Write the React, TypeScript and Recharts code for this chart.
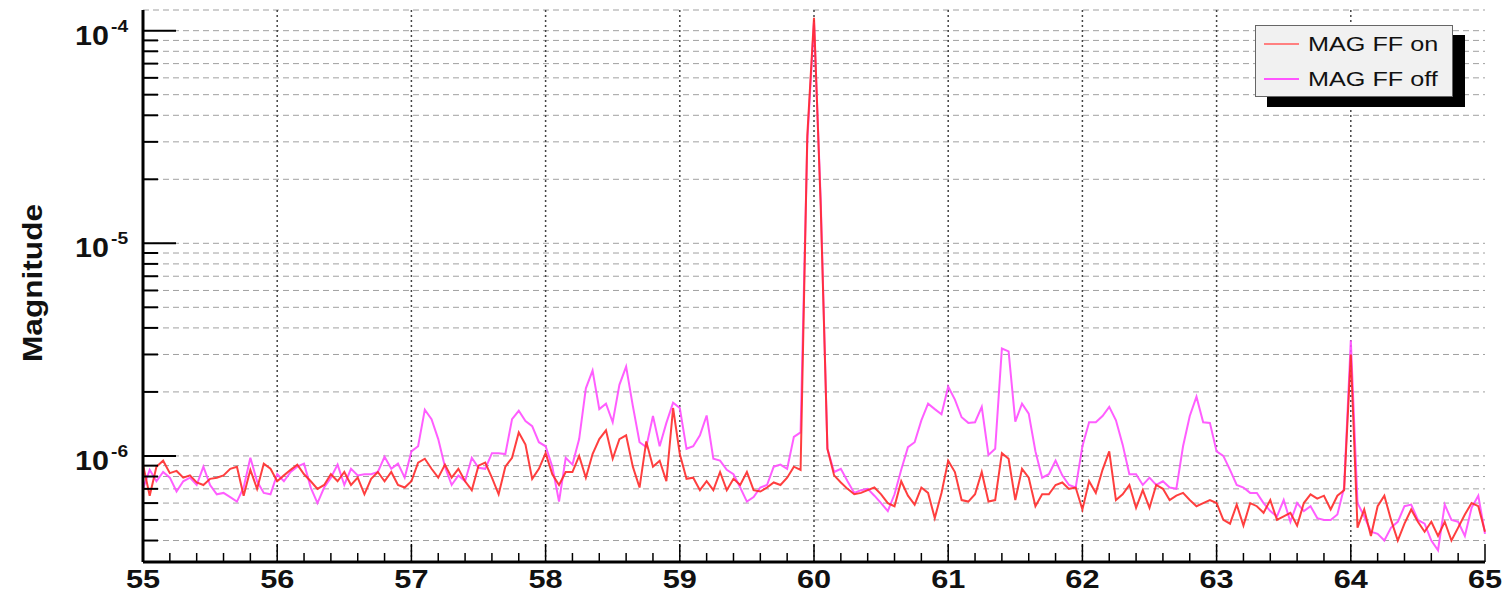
import { LineChart, Line, XAxis, YAxis, CartesianGrid, ReferenceLine, Legend } from "recharts";

const FONT = '"Liberation Sans", Arial, Helvetica, sans-serif';

// spectrum sampled every 0.05 Hz starting at 55 Hz
const FREQ_START = 55;
const FREQ_STEP = 0.05;

// magnitudes in units of 1e-7
const MAG_FF_ON = [
  9.1, 6.5, 8.9, 9.5, 8.3, 8.5, 7.9, 8.1, 7.5, 7.3, 7.8, 7.9, 8.1, 8.7, 8.9, 6.5, 8.6, 7.0, 9.2, 8.7, 7.6,
  8.1, 8.6, 9.1, 8.2, 7.6, 7.0, 7.3, 8.2, 7.6, 8.4, 7.3, 7.9, 6.6, 7.8, 8.4, 7.6, 8.4, 7.3, 7.1, 7.6,
  9.3, 9.7, 8.7, 7.9, 9.1, 7.9, 8.7, 7.6, 6.9, 9.0, 9.3, 7.9, 6.6, 8.9, 9.8, 12.9, 11.3, 7.8, 8.7, 10.3,
  8.2, 7.3, 8.4, 8.4, 10.0, 7.9, 10.2, 12.0, 13.2, 9.7, 12.0, 12.5, 8.9, 7.1, 11.7, 8.9, 9.5, 7.6, 16.8, 10.2,
  7.8, 7.9, 6.9, 7.6, 6.9, 8.4, 6.9, 7.8, 7.3, 8.4, 6.9, 6.8, 7.1, 7.5, 7.3, 7.9, 8.9, 8.6, 320, 1150,
  150, 10.8, 8.1, 7.5, 7.0, 6.6, 6.7, 6.9, 7.1, 6.6, 6.0, 5.8, 7.6, 6.5, 5.9, 7.1, 6.7, 5.1, 6.7, 9.5,
  8.4, 6.2, 6.1, 6.6, 8.4, 6.1, 6.2, 10.3, 9.7, 6.2, 8.7, 7.9, 5.8, 6.6, 6.6, 7.3, 7.5, 7.0, 7.1, 5.6,
  7.6, 6.7, 8.6, 10.5, 6.2, 6.6, 7.3, 5.7, 6.9, 5.7, 7.3, 7.0, 6.2, 6.5, 6.7, 6.2, 5.8, 6.0, 6.2, 6.0,
  5.0, 4.8, 5.9, 4.7, 6.0, 5.8, 5.4, 6.2, 5.0, 5.2, 5.4, 4.7, 6.0, 6.6, 6.3, 6.5, 5.6, 6.5, 6.9, 30,
  4.6, 5.6, 4.2, 5.8, 6.5, 5.0, 4.0, 4.8, 5.6, 4.9, 4.4, 4.9, 4.2, 4.9, 4.0, 4.6, 5.3, 6.0, 5.8, 4.4,
];

const MAG_FF_OFF = [
  7.0, 8.6, 7.6, 8.4, 7.9, 6.8, 7.6, 7.9, 7.3, 8.9, 7.3, 6.6, 6.7, 6.4, 6.1, 7.1, 9.8, 7.6, 6.7, 6.6, 8.2,
  7.6, 8.4, 8.9, 9.2, 7.1, 6.0, 7.1, 7.9, 9.1, 7.3, 8.7, 8.1, 8.2, 8.2, 8.4, 9.9, 8.7, 9.2, 7.9, 10.5,
  11.1, 16.5, 14.9, 12.0, 8.9, 7.3, 8.1, 7.6, 9.8, 8.8, 8.7, 10.3, 10.3, 10.2, 14.9, 16.3, 14.6, 13.8, 11.6, 11.1,
  8.9, 6.1, 9.8, 9.1, 12.0, 20.8, 25.2, 16.6, 17.6, 14.4, 21.6, 26.3, 17.2, 11.6, 11.0, 15.4, 11.1, 14.3, 17.8, 16.8,
  10.8, 11.1, 12.5, 15.5, 9.7, 9.5, 8.6, 8.2, 7.1, 6.1, 6.4, 7.1, 7.3, 8.9, 9.1, 8.7, 12.3, 12.9, 300, 1100,
  160, 10.8, 8.4, 8.7, 7.6, 6.7, 6.9, 7.0, 6.5, 6.0, 5.5, 6.6, 8.6, 11.0, 11.6, 14.7, 17.6, 16.6, 15.7, 21.2,
  18.4, 15.2, 14.3, 14.4, 17.0, 10.1, 10.8, 32, 31, 14.5, 17.6, 15.8, 10.5, 7.9, 8.2, 9.5, 8.1, 7.3, 7.1, 11.1,
  14.4, 14.4, 15.4, 17.0, 14.7, 11.3, 8.2, 8.2, 7.3, 7.9, 7.3, 7.6, 7.1, 7.0, 11.1, 15.4, 19.0, 14.4, 14.3, 10.5,
  10.0, 8.6, 7.3, 7.1, 6.7, 6.7, 6.0, 5.5, 5.2, 6.2, 4.9, 6.0, 5.5, 5.8, 5.1, 5.0, 5.0, 5.3, 7.1, 35,
  6.0, 5.2, 4.4, 4.3, 4.0, 4.6, 4.9, 5.8, 5.9, 5.0, 4.8, 4.0, 3.6, 5.9, 5.0, 4.9, 4.2, 5.7, 6.5, 4.3,
];

const X_MAJOR = [55, 56, 57, 58, 59, 60, 61, 62, 63, 64, 65];
const Y_DECADES = [10, 100, 1000];
const Y_DECADE_EXP = ["-6", "-5", "-4"];
const Y_GRID = [4, 5, 6, 7, 8, 9, 10, 20, 30, 40, 50, 60, 70, 80, 90, 100, 200, 300, 400, 500, 600, 700, 800, 900, 1000];

const SERIES = [
  { key: "off", name: "MAG FF off", color: "#ff4dff", legendColor: "#ff55ff" },
  { key: "on", name: "MAG FF on", color: "#ff2a2a", legendColor: "#ff8080" },
];

const data = MAG_FF_ON.map((v, i) => ({
  freq: +(FREQ_START + i * FREQ_STEP).toFixed(2),
  on: v,
  off: MAG_FF_OFF[i],
}));

// minor ticks every 0.2 Hz
const X_TICKS = Array.from({ length: 51 }, (_, i) => +(55 + i * 0.2).toFixed(1));

const isMajorX = (v: number) => Number.isInteger(v);
const isDecade = (v: number) => Y_DECADES.includes(v);

function BottomTick({ x, y, payload }: any) {
  const v = payload.value;
  const major = isMajorX(v);
  return (
    <g>
      <line x1={x} x2={x} y1={y} y2={y - (major ? 18 : 9)} stroke="#000" strokeWidth={1.5} />
      {major && (
        <text
          transform={`translate(${x},${y + 26}) scale(1.18,1)`}
          textAnchor="middle"
          fontSize={26}
          fontWeight="bold"
          fontFamily={FONT}
          fill="#111"
        >
          {v}
        </text>
      )}
    </g>
  );
}

function TopTick({ x, y, payload }: any) {
  const major = isMajorX(payload.value);
  return <line x1={x} x2={x} y1={y} y2={y + (major ? 15 : 8)} stroke="#000" strokeWidth={1.5} />;
}

function LeftTick({ x, y, payload }: any) {
  const v = payload.value;
  const major = isDecade(v);
  const exp = Y_DECADE_EXP[Y_DECADES.indexOf(v)];
  return (
    <g>
      <line x1={x} x2={x + (major ? 33 : 15)} y1={y} y2={y} stroke="#000" strokeWidth={2} />
      {major && (
        <g fontFamily={FONT} fontWeight="bold" fill="#111">
          <text transform={`translate(109,${y + 14}) scale(1.13,1)`} textAnchor="end" fontSize={27}>
            10
          </text>
          <text transform={`translate(111,${y + 1}) scale(1.13,1)`} fontSize={17}>
            {exp}
          </text>
        </g>
      )}
    </g>
  );
}

function RightTick({ x, y, payload }: any) {
  const major = isDecade(payload.value);
  return <line x1={x} x2={x - (major ? 33 : 17)} y1={y} y2={y} stroke="#000" strokeWidth={2} />;
}

function YTitle({ viewBox }: any) {
  const cy = viewBox.y + viewBox.height / 2 - 3;
  return (
    <text
      transform={`translate(42,${cy}) rotate(-90) scale(1.13,1)`}
      textAnchor="middle"
      fontSize={28}
      fontWeight="bold"
      fontFamily={FONT}
      fill="#111"
    >
      Magnitude
    </text>
  );
}

function LegendBox() {
  const rows = [SERIES[1], SERIES[0]];
  return (
    <div
      style={{
        width: 198,
        height: 72,
        boxSizing: "border-box",
        background: "#f1f1f1",
        border: "1px solid #666",
        boxShadow: "12px 10px 0 0 #000",
        fontFamily: FONT,
        position: "relative",
      }}
    >
      {rows.map((s, i) => (
        <div key={s.key} style={{ position: "absolute", left: 0, top: 6 + i * 35, height: 24, width: 198 }}>
          <div style={{ position: "absolute", left: 8, top: 11, width: 35, height: 2, background: s.legendColor }} />
          <div
            style={{
              position: "absolute",
              left: 52,
              top: 0,
              fontSize: 21,
              lineHeight: "24px",
              color: "#111",
              whiteSpace: "nowrap",
              transform: "scale(1.2,1)",
              transformOrigin: "0 0",
            }}
          >
            {s.name}
          </div>
        </div>
      ))}
    </div>
  );
}

export default function App() {
  return (
    <div style={{ width: 1506, height: 594, background: "#fff" }}>
      <style>{`body{margin:0;overflow:hidden;background:#fff}`}</style>
      <LineChart width={1506} height={594} data={data} margin={{ top: 10, right: 21, bottom: 0, left: 0 }}>
        <CartesianGrid vertical={false} stroke="#a0a0a0" strokeDasharray="6 4" />
        {X_MAJOR.slice(1, -1).map((v) => (
          <ReferenceLine key={v} x={v} stroke="#444" strokeDasharray="2 3" strokeWidth={1.5} />
        ))}
        <XAxis
          dataKey="freq"
          type="number"
          domain={[55, 65]}
          ticks={X_TICKS}
          interval={0}
          height={32}
          tickSize={0}
          tickMargin={0}
          tick={<BottomTick />}
          axisLine={{ stroke: "#000", strokeWidth: 3 }}
          tickLine={false}
        />
        <XAxis
          xAxisId="top"
          orientation="top"
          dataKey="freq"
          type="number"
          domain={[55, 65]}
          ticks={X_TICKS}
          interval={0}
          height={0}
          tickSize={0}
          tickMargin={0}
          tick={<TopTick />}
          axisLine={{ stroke: "#000", strokeWidth: 3 }}
          tickLine={false}
        />
        <YAxis
          scale="log"
          domain={[3.17, 1251]}
          allowDataOverflow
          ticks={Y_GRID}
          interval={0}
          width={143}
          tickSize={0}
          tickMargin={0}
          tick={<LeftTick />}
          axisLine={{ stroke: "#000", strokeWidth: 3 }}
          tickLine={false}
          label={{ content: <YTitle /> }}
        />
        <YAxis
          yAxisId="right"
          orientation="right"
          scale="log"
          domain={[3.17, 1251]}
          allowDataOverflow
          ticks={Y_GRID}
          interval={0}
          width={0}
          tickSize={0}
          tickMargin={0}
          tick={<RightTick />}
          axisLine={{ stroke: "#000", strokeWidth: 3 }}
          tickLine={false}
        />
        <Legend
          layout="horizontal"
          align="center"
          verticalAlign="middle"
          content={() => <LegendBox />}
          wrapperStyle={{ position: "absolute", left: 1255, top: 25, width: 198, height: 72 }}
        />
        {SERIES.map((s) => (
          <Line
            key={s.key}
            dataKey={s.key}
            name={s.name}
            type="linear"
            stroke={s.color}
            strokeOpacity={0.9}
            strokeWidth={2}
            dot={false}
            activeDot={false}
            isAnimationActive={false}
          />
        ))}
      </LineChart>
    </div>
  );
}
